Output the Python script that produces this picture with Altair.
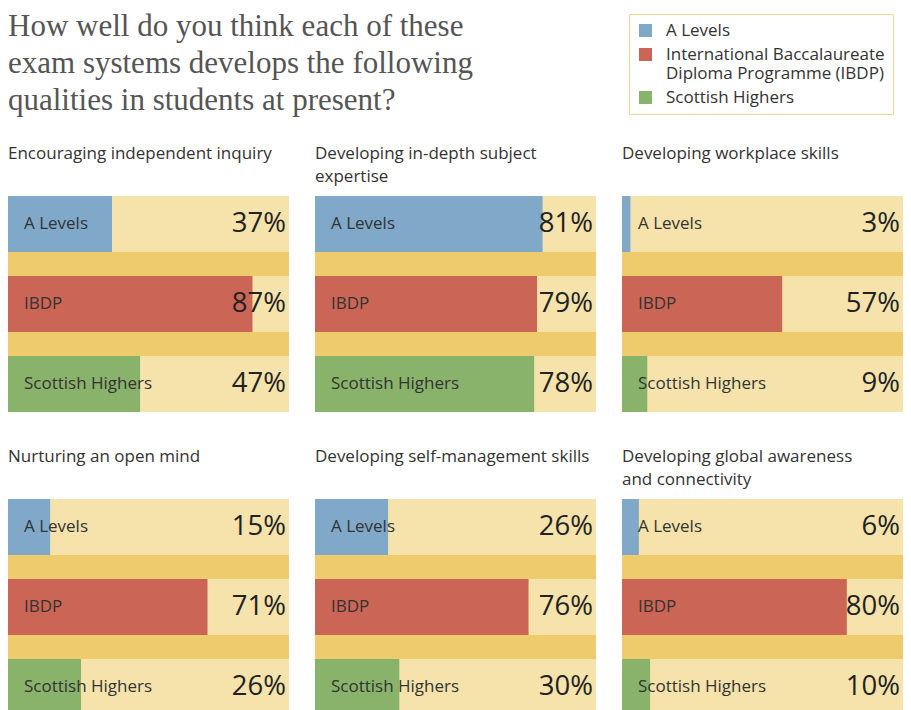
import altair as alt
import pandas as pd

qualities = [
    "Encouraging independent inquiry",
    "Developing in-depth subject|expertise",
    "Developing workplace skills",
    "Nurturing an open mind",
    "Developing self-management skills",
    "Developing global awareness|and connectivity",
]
systems = ["A Levels", "IBDP", "Scottish Highers"]
a_levels = [37, 81, 3, 15, 26, 6]
ibdp = [87, 79, 57, 71, 76, 80]
scottish = [47, 78, 9, 26, 30, 10]
title_lines = ["How well do you think each of these",
               "exam systems develops the following",
               "qualities in students at present?"]

rows = []
for i, q in enumerate(qualities):
    for s, vals in zip(systems, [a_levels, ibdp, scottish]):
        rows.append({"quality": q, "system": s, "value": vals[i]})
df = pd.DataFrame(rows)

BLUE, RED, GREEN = "#80a8c9", "#cb6555", "#89b26b"
LIGHT, DARK = "#f5e3ab", "#eecb6c"
SANS = "Open Sans"

xs = alt.Scale(domain=[0, 100], nice=False, zero=True)
y = alt.Y("system:N", sort=systems, axis=None,
          scale=alt.Scale(paddingInner=0.3, paddingOuter=0))

band = alt.Chart().transform_calculate(zero="0", full="100").mark_rect(color=DARK).encode(
    x=alt.X("zero:Q", scale=xs, axis=None), x2="full:Q"
)
base = alt.Chart().encode(y=y)
bg = base.transform_calculate(full="100").mark_bar(color=LIGHT).encode(
    x=alt.X("full:Q", scale=xs, axis=None)
)
bars = base.mark_bar().encode(
    x=alt.X("value:Q", scale=xs, axis=None),
    color=alt.Color(
        "system:N",
        sort=systems,
        scale=alt.Scale(domain=systems, range=[BLUE, RED, GREEN]),
        legend=alt.Legend(
            title=None,
            orient="none",
            legendX=621,
            legendY=-105,
            symbolType="square",
            symbolSize=169,
            symbolStrokeWidth=0,
            symbolOpacity=1,
            labelFont=SANS,
            labelFontSize=17,
            labelColor="#333",
            labelLimit=400,
            labelExpr="datum.label == 'IBDP' ? ['International Baccalaureate', 'Diploma Programme (IBDP)'] : datum.label",
            rowPadding=6,
            strokeColor="#f2d990",
            fillColor="white",
            padding=8,
            labelOffset=12,
        ),
    ),
)
names = base.mark_text(align="left", baseline="middle", dx=16, font=SANS,
                       fontSize=17, color="#333").encode(
    x=alt.datum(0, scale=xs),
    text="system:N",
)
pct = base.transform_calculate(lab="datum.value + '%'").mark_text(
    align="right", baseline="middle", dx=-3, font=SANS, fontSize=27.5, color="#222"
).encode(
    x=alt.datum(100, scale=xs),
    text="lab:N",
)

panel = alt.layer(band, bg, bars, names, pct).properties(width=281, height=216)

grid = panel.facet(
    data=df,
    facet=alt.Facet(
        "quality:N",
        sort=qualities,
        header=alt.Header(
            title=None,
            labelAnchor="start",
            labelAlign="left",
            labelFont=SANS,
            labelFontSize=17,
            labelColor="#333",
            labelExpr="[split(datum.label, '|')[0], length(split(datum.label, '|')) > 1 ? split(datum.label, '|')[1] : '']",
            labelLineHeight=23,
            labelPadding=10,
        ),
    ),
    columns=3,
    spacing={"row": 36, "column": 26},
)

header = (
    alt.Chart(pd.DataFrame({"t": [0]}))
    .mark_point(opacity=0)
    .properties(
        width=600,
        height=1,
        title=alt.TitleParams(
            text=title_lines,
            anchor="start",
            frame="group",
            font="Liberation Serif",
            fontSize=31,
            fontWeight="normal",
            color="#555",
            lineHeight=37,
            offset=0,
        ),
    )
)

chart = (
    alt.vconcat(header, grid, spacing=22)
    .properties(padding={"top": 2, "left": 0, "right": 0, "bottom": 0})
    .configure_view(stroke=None)
)

chart.save("out.html", embed_options={"renderer": "svg", "actions": False})
